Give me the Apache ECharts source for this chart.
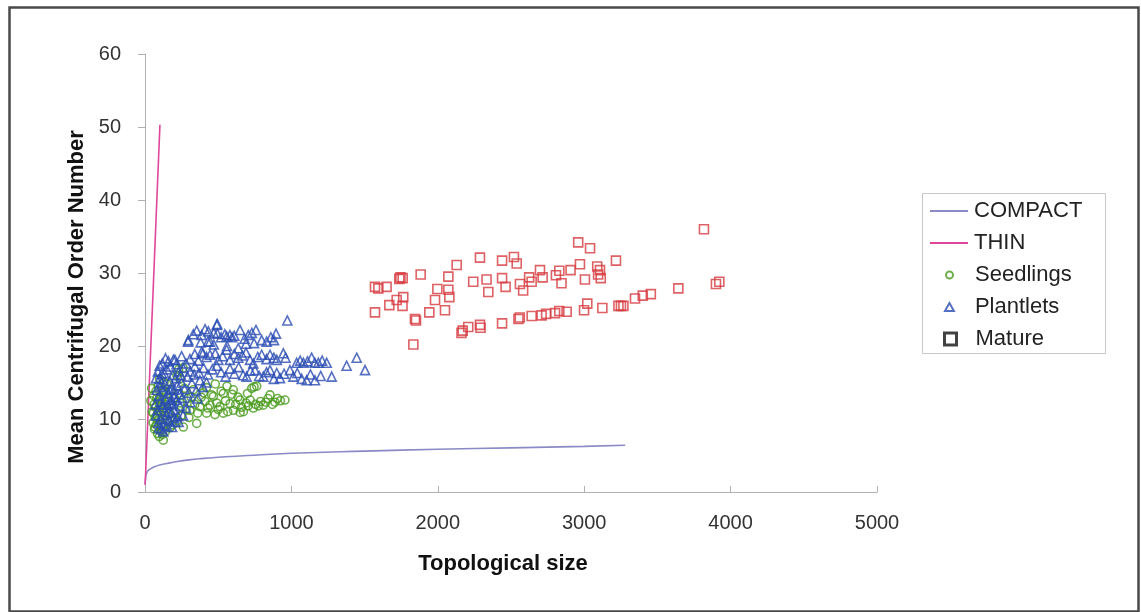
<!DOCTYPE html>
<html><head><meta charset="utf-8">
<script src="https://cdn.jsdelivr.net/npm/echarts@6/dist/echarts.min.js"></script>
<style>html,body{margin:0;padding:0;background:#fff}#c{width:1141px;height:612px}</style>
</head><body><div id="c"></div>
<script>
var xTicks = [0, 1000, 2000, 3000, 4000, 5000];
var yTicks = [0, 10, 20, 30, 40, 50, 60];
var seriesNames = ['COMPACT', 'THIN', 'Seedlings', 'Plantlets', 'Mature'];

var compact = [[1,1],[3,1.7],[6,2.2],[10,2.5],[20,2.9],[40,3.2],[70,3.5],[100,3.7],[150,3.9],[200,4.1],[300,4.4],[400,4.6],[500,4.75],[700,5.0],[1000,5.3],[1500,5.6],[2000,5.85],[2500,6.05],[3000,6.25],[3280,6.4]];
var thin = [[1,1],[102,50.3]];

var seedlings = [[40,12.5],[45,14.2],[50,11.0],[55,9.5],[57,10.8],[60,13.2],[62,12.0],[65,8.6],[68,8.9],[70,10.2],[72,11.6],[75,13.8],[78,9.2],[80,12.8],[82,10.5],[85,8.0],[88,11.2],[90,14.5],[92,9.8],[95,12.2],[98,7.6],[100,10.9],[103,13.0],[106,8.4],[110,11.7],[112,9.3],[115,12.6],[118,10.1],[120,7.9],[123,13.6],[125,7.1],[128,11.0],[130,9.0],[135,12.0],[138,10.4],[140,8.3],[145,13.4],[150,11.4],[155,9.6],[160,12.4],[165,10.7],[170,8.8],[175,13.9],[180,11.9],[185,10.0],[190,9.2],[200,12.9],[210,11.0],[218,16.0],[230,16.8],[240,15.5],[260,17.0],[220,9.8],[230,13.5],[240,12.2],[250,10.5],[262,8.9],[270,14.2],[280,11.4],[290,12.8],[300,10.2],[307,11.2],[315,13.0],[330,14.0],[340,12.0],[353,9.4],[360,10.8],[376,11.7],[385,13.0],[398,13.6],[410,12.4],[421,10.8],[430,11.5],[444,11.9],[455,13.3],[467,13.1],[478,10.6],[490,12.2],[500,11.3],[512,11.7],[520,13.8],[535,13.5],[535,10.8],[550,12.5],[565,11.0],[581,12.1],[595,13.4],[603,14.0],[604,11.2],[620,12.0],[635,13.0],[649,12.6],[660,11.6],[672,11.0],[690,12.2],[705,11.8],[718,12.6],[729,14.2],[740,11.5],[745,14.4],[755,12.0],[763,14.5],[775,11.8],[790,12.4],[808,11.9],[825,12.3],[840,12.8],[854,13.3],[870,12.0],[888,12.3],[905,12.8],[925,12.5],[956,12.6],[560,14.5],[480,14.8],[420,14.3],[650,10.9],[700,13.5],[150,14.8],[130,15.0],[100,15.5],[120,14.0]];

var plantlets = [[296,20.8],[330,21.6],[353,22.1],[387,21.5],[410,22.3],[433,22.0],[444,20.6],[470,21.8],[494,23.0],[494,21.7],[520,21.2],[545,21.6],[558,21.3],[580,21.5],[595,21.2],[610,21.4],[637,19.7],[649,22.2],[680,21.0],[706,21.5],[730,21.8],[745,20.4],[758,22.2],[797,20.8],[831,20.6],[860,21.2],[881,20.8],[895,21.7],[972,23.5],[380,20.5],[470,20.2],[560,20.0],[690,20.3],
[205,18.1],[250,18.6],[280,17.6],[307,18.2],[340,18.9],[365,18.0],[387,19.2],[420,18.5],[444,18.8],[480,19.0],[501,18.1],[530,18.6],[558,19.5],[580,18.1],[610,18.9],[637,18.4],[665,18.7],[690,19.1],[717,18.1],[740,17.6],[770,18.5],[797,18.8],[830,18.2],[854,18.8],[880,18.4],[900,18.1],[945,19.0],[960,18.4],[1036,17.7],[1060,18.0],[1082,17.7],[1110,17.9],[1138,18.4],[1160,17.7],[1184,17.7],[1210,18.0],[1241,17.7],[1377,17.3],[1446,18.4],[1503,16.7],
[310,16.5],[340,17.2],[370,16.3],[400,17.0],[430,16.1],[460,16.8],[490,17.3],[520,16.4],[550,15.8],[580,16.9],[610,16.2],[640,17.1],[670,16.0],[694,15.8],[720,16.6],[751,16.7],[780,15.9],[808,15.8],[830,16.4],[854,16.7],[880,15.5],[900,16.3],[922,15.6],[950,16.2],[990,16.7],[1013,15.8],[1040,16.3],[1070,15.5],[1104,15.3],[1130,16.1],[1161,15.3],[1200,15.9],[1275,15.8],
[70,12.0],[75,10.5],[80,14.0],[85,11.2],[90,9.5],[95,13.2],[100,15.5],[105,12.4],[110,10.0],[115,16.2],[120,11.6],[125,13.8],[130,9.2],[135,14.8],[140,12.8],[145,10.6],[150,16.8],[155,11.9],[160,13.5],[165,9.8],[170,15.2],[175,12.2],[180,10.9],[185,14.2],[190,16.0],[195,11.3],[200,13.0],[205,9.6],[210,15.6],[215,12.6],[220,14.6],[225,10.4],[230,16.5],[235,13.4],[240,11.8],[250,15.0],[255,12.9],[260,17.0],[270,14.1],[280,11.5],[290,15.8],[300,13.6],[310,12.3],[320,14.9],[335,16.1],[350,13.9],[360,12.8],[375,15.3],[395,14.4],[420,15.0],[88,16.5],[100,17.3],[118,17.6],[140,18.3],[160,17.9],[175,17.2],[130,16.3],[95,8.8],[110,8.6],[125,8.3],[150,9.0],[185,8.9],[200,10.2],[230,9.6],[140,10.0],[120,12.0],[160,11.0],[180,12.6],[105,14.4],[75,15.6],[200,14.0],[260,10.5],[215,17.5],[245,16.0],[110,15.0],[170,14.0],[190,12.0],[490,22.9],[294,20.6],[430,20.6],[194,18.1],[396,19.0]];

var mature = [[3818,36.0],[2959,34.2],[3040,33.4],[2288,32.1],[2520,32.2],[2129,31.1],[2439,31.7],[2539,31.3],[3217,31.7],[2971,31.2],[2698,30.4],[2830,30.3],[2907,30.4],[3089,30.9],[3108,30.4],[1883,29.8],[1737,29.2],[1745,29.4],[1760,29.3],[2072,29.5],[2242,28.8],[2333,29.1],[2439,29.3],[2624,29.4],[2716,29.4],[2807,29.7],[3005,29.1],[3113,29.3],[3095,29.8],[2845,28.6],[2561,28.5],[2463,28.1],[2641,28.8],[1571,28.1],[1594,27.9],[1650,28.1],[1997,27.8],[2072,27.7],[2079,26.7],[2345,27.4],[2583,27.6],[1764,26.7],[1719,26.3],[1981,26.3],[1669,25.6],[1759,25.5],[1571,24.6],[1942,24.6],[2049,24.9],[1844,23.7],[1851,23.5],[1833,20.2],[2162,21.8],[2170,22.1],[2208,22.6],[2288,22.9],[2292,22.5],[2439,23.1],[2551,23.7],[2560,23.9],[2641,24.1],[2709,24.2],[2740,24.4],[2801,24.5],[2830,24.8],[2880,24.7],[2999,24.9],[3021,25.8],[3124,25.2],[3234,25.5],[3251,25.5],[3268,25.5],[3347,26.5],[3400,26.9],[3455,27.1],[3643,27.9],[3900,28.5],[3923,28.8]];

var FONT = '"Liberation Sans", Arial, sans-serif';
var LINE_ICON = 'path://M0,0L38,0L38,2L0,2Z';
var CIRCLE_ICON = 'path://M0,5A5,5,0,1,1,10,5A5,5,0,1,1,0,5Z';
var TRI_ICON = 'path://M5,0L10,9L0,9Z';
var SQ_ICON = 'path://M0,0L10,0L10,10L0,10Z';

// left: icon left edge; w/h: icon size; pad: extra gap so text starts at x = 974
function legendRow(name, centerY, icon, left, w, h, extra) {
  var item = {name: name, icon: icon};
  if (extra) item.itemStyle = extra;
  var textLeft = left + w + 5;
  return {
    orient: 'vertical', left: left, top: centerY - 12, padding: 0,
    itemWidth: w, itemHeight: h,
    textStyle: {fontFamily: FONT, fontSize: 22, color: '#222', lineHeight: 24,
      padding: [0, 0, 0, Math.max(0, 974 - textLeft)]},
    data: [item]
  };
}

var chart = echarts.init(document.getElementById('c'), null, {renderer: 'canvas'});
chart.setOption({
  backgroundColor: '#fff',
  animation: false,
  graphic: [
    {type: 'rect', left: 7, top: 5, z: -10, shape: {width: 1129, height: 604},
     style: {fill: 'none', stroke: '#4a4a4a', lineWidth: 2.5}},
    {type: 'rect', left: 922, top: 193, z: -5, shape: {width: 183, height: 160},
     style: {fill: '#fff', stroke: '#c8c8c8', lineWidth: 1}}
  ],
  grid: {left: 145, right: 264, top: 54, bottom: 120},
  legend: [
    legendRow(seriesNames[0], 211, LINE_ICON, 930, 38, 9),
    legendRow(seriesNames[1], 243, LINE_ICON, 930, 38, 9),
    legendRow(seriesNames[2], 275, CIRCLE_ICON, 945, 7, 7),
    legendRow(seriesNames[3], 307, TRI_ICON, 944, 9, 8),
    legendRow(seriesNames[4], 339, SQ_ICON, 943, 12, 12, {color: '#fff', borderColor: '#111', borderWidth: 3})
  ],
  xAxis: {
    type: 'value', min: xTicks[0], max: xTicks[xTicks.length - 1], interval: 1000,
    name: 'Topological size', nameLocation: 'middle', nameGap: 61,
    nameTextStyle: {fontFamily: FONT, fontSize: 22, fontWeight: 'bold', color: '#111', padding: [0, 16, 0, 0]},
    axisLine: {show: true, lineStyle: {color: '#b0b0b0', width: 1}},
    axisTick: {show: true, inside: true, length: 6, lineStyle: {color: '#b0b0b0'}},
    axisLabel: {fontFamily: FONT, fontSize: 20, color: '#333', margin: 21,
      formatter: function (v) { return String(v); }},
    splitLine: {show: false}
  },
  yAxis: {
    type: 'value', min: yTicks[0], max: yTicks[yTicks.length - 1], interval: 10,
    name: 'Mean Centrifugal Order Number', nameLocation: 'middle', nameGap: 55,
    nameTextStyle: {fontFamily: FONT, fontSize: 22, fontWeight: 'bold', color: '#111', padding: [0, 48, 0, 0]},
    axisLine: {show: true, lineStyle: {color: '#b0b0b0', width: 1}},
    axisTick: {show: true, inside: false, length: 7, lineStyle: {color: '#b0b0b0'}},
    axisLabel: {fontFamily: FONT, fontSize: 20, color: '#333', margin: 24},
    splitLine: {show: false}
  },
  series: [
    {name: seriesNames[0], type: 'line', data: compact, showSymbol: false, symbol: 'none', smooth: true,
     lineStyle: {color: '#8a8ac6', width: 1.6}, itemStyle: {color: '#8a8ac6'}, z: 3},
    {name: seriesNames[1], type: 'line', data: thin, showSymbol: false, symbol: 'none',
     lineStyle: {color: '#e0479b', width: 1.6}, itemStyle: {color: '#e0479b'}, z: 3},
    {name: seriesNames[2], type: 'scatter', data: seedlings, symbol: 'circle', symbolSize: 8,
     itemStyle: {color: 'rgba(255,255,255,0)', borderColor: '#4a9a1e', borderWidth: 1.6}, z: 4},
    {name: seriesNames[3], type: 'scatter', data: plantlets, symbol: 'triangle', symbolSize: 9,
     itemStyle: {color: 'rgba(255,255,255,0)', borderColor: '#2b4cb3', borderWidth: 1.6}, z: 5},
    {name: seriesNames[4], type: 'scatter', data: mature, symbol: 'rect', symbolSize: 9,
     itemStyle: {color: 'rgba(255,255,255,0)', borderColor: '#d63a3f', borderWidth: 1.6}, z: 6}
  ]
});
</script>
</body></html>
